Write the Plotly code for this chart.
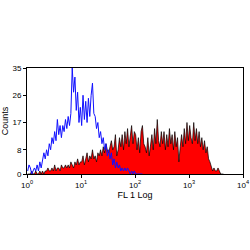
import numpy as np
import plotly.graph_objects as go

# Channel resolution: each bin spans 0.025 decades of FL1
decades_per_bin = 0.025

# Isotype control (blue line), counts per bin from the low end
isotype_counts = [1, 3, 2, 0, 1, 2, 1, 3, 1, 4,
                  2, 5, 7, 5, 8, 6, 10, 8, 12, 10,
                  14, 11, 18, 13, 16, 12, 16, 14, 18, 15,
                  19, 16, 20, 35, 27, 32, 21, 27, 17, 22,
                  16, 26, 18, 24, 17, 25, 19, 26, 30, 20,
                  19, 15, 17, 12, 14, 10, 12, 8, 10, 6,
                  8, 5, 7, 3, 5, 2, 4, 2, 3, 1,
                  2, 1, 2, 1, 2, 1, 0, 1, 0, 1,
                  0, 0, 0, 0, 0, 0]

# Stained sample (red filled), counts per bin from the low end
stained_counts = [0, 0, 0, 1, 0, 0, 1, 0, 0, 1, 0, 1, 0, 1,
                  1, 2, 1, 1, 2, 1, 3, 1, 2, 2, 1, 3, 2, 2, 3, 2,
                  3, 2, 4, 3, 2, 4, 3, 5, 3, 4,
                  4, 6, 3, 5, 7, 4, 6, 5, 8, 5, 6, 4, 7, 6,
                  8, 6, 9, 7, 10, 8, 7, 9, 11, 8,
                  9, 13, 6, 8, 12, 9,
                  13, 8, 14, 10, 15, 9, 12, 16, 10, 14, 13, 8, 12, 7, 14, 16, 10, 9,
                  7, 12, 6, 10, 13, 8, 15, 10,
                  18, 11, 9, 14,
                  10, 14, 8, 13, 9, 15, 10, 13, 8, 14, 9, 12,
                  4, 9,
                  13, 9, 15, 10, 17, 11, 16, 12, 10, 17, 11, 15,
                  10, 14, 9, 12, 8, 11,
                  7, 9, 5, 4, 2, 1,
                  2, 1, 1, 2, 1, 0, 0, 0]

x_ticks = [1, 10, 100, 1000, 10000]
x_tick_labels = ["10<sup>0</sup>", "10<sup>1</sup>", "10<sup>2</sup>", "10<sup>3</sup>", "10<sup>4</sup>"]
y_ticks = [0, 8, 17, 26, 35]

def bin_centers(n):
    return 10 ** ((np.arange(n) + 0.5) * decades_per_bin)

fig = go.Figure()
fig.add_trace(go.Scatter(
    x=bin_centers(len(stained_counts)), y=stained_counts,
    mode="lines", fill="tozeroy", fillcolor="#ff0000",
    line=dict(color="#000000", width=0.7), showlegend=False))
fig.add_trace(go.Scatter(
    x=bin_centers(len(isotype_counts)), y=isotype_counts,
    mode="lines", line=dict(color="#1010ff", width=1), showlegend=False))

font = dict(family="Liberation Sans, Arial, sans-serif", size=8, color="#000000")
fig.update_layout(
    width=250, height=250,
    margin=dict(l=27, r=7, t=68, b=76),
    paper_bgcolor="white", plot_bgcolor="white",
    font=font,
    xaxis=dict(type="log", range=[0, 4], tickvals=x_ticks, ticktext=x_tick_labels,
               ticks="outside", ticklen=3, tickwidth=1, tickcolor="#000",
               showline=True, linecolor="#000", linewidth=1, mirror=True,
               showgrid=False, zeroline=False, automargin=False,
               title=dict(text="FL 1 Log", font=dict(size=9), standoff=1)),
    yaxis=dict(range=[0, 35], tickvals=y_ticks,
               ticks="outside", ticklen=3, tickwidth=1, tickcolor="#000",
               showline=True, linecolor="#000", linewidth=1, mirror=True,
               showgrid=False, zeroline=False, automargin=False,
               title=dict(text="Counts", font=dict(size=9), standoff=4)),
)
fig.write_html("out.html")
